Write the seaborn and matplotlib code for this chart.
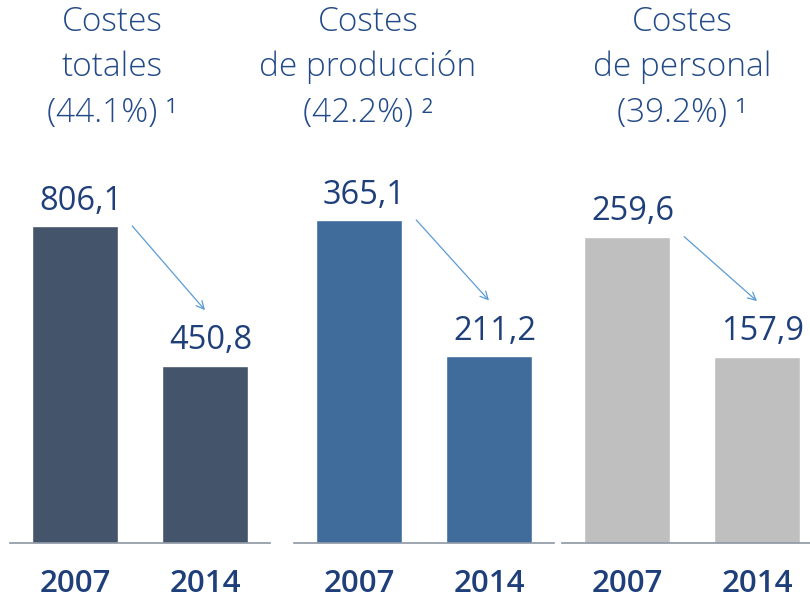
import numpy as np
import pandas as pd
import matplotlib
matplotlib.use("Agg")
import matplotlib.pyplot as plt
import matplotlib.transforms as mtrans
import seaborn as sns

sns.set_style("white")
plt.rcParams['font.family'] = ['Open Sans', 'DejaVu Sans']

# datos
years = ["2007", "2014"]
totales = [806.1, 450.8]
produccion = [365.1, 211.2]
personal = [259.6, 157.9]
titles = [["Costes", "totales", "(44.1%) \u00b9"],
          ["Costes", "de producción", "(42.2%) \u00b2"],
          ["Costes", "de personal", "(39.2%) \u00b9"]]

series = [totales, produccion, personal]
colors = ["#44546A", "#406C9C", "#BFBFBF"]
ytops = [1017, 452, 339]          # escala propia de cada panel
lefts = [10, 294, 562]            # posicion en pixeles
title_x = [112, 368, 682]
text_col = "#1F3F7A"
title_col = "#234A88"

fig = plt.figure(figsize=(8.1, 6), dpi=100)

for i, vals in enumerate(series):
    ax = fig.add_axes([lefts[i] / 810, 57 / 600, 260 / 810, 400 / 600])
    df = pd.DataFrame({'year': years, 'value': vals})
    sns.barplot(data=df, x='year', y='value', color=colors[i], width=0.66,
                saturation=1, ax=ax)
    ax.set_xlim(-0.5, 1.5)
    ax.set_ylim(0, ytops[i])
    for s in ['top', 'right', 'left']:
        ax.spines[s].set_visible(False)
    ax.spines['bottom'].set_color('#8C96A3')
    ax.spines['bottom'].set_linewidth(1.2)
    ax.set_yticks([])
    ax.set_xlabel('')
    ax.set_ylabel('')
    ax.tick_params(axis='x', length=0, pad=19)
    for lab in ax.get_xticklabels():
        lab.set_fontsize(22.5)
        lab.set_fontweight('semibold')
        lab.set_color(text_col)

    # etiquetas de valor
    for j, v in enumerate(vals):
        ax.annotate(f"{v:.1f}".replace('.', ','), xy=(j, v), xytext=(4, 6),
                    textcoords='offset points', ha='center', va='bottom',
                    fontsize=23.5, color=text_col)

    # flecha de 2007 a 2014
    start_tr = ax.transData
    end_tr = mtrans.offset_copy(ax.transData, fig=fig, x=0, y=40, units='points')
    ax.annotate('', xy=(1.0, vals[1]), xycoords=end_tr,
                xytext=(0.44, vals[0]), textcoords=start_tr,
                arrowprops=dict(arrowstyle='->', color='#5B9BD5', lw=0.9,
                                mutation_scale=14, shrinkA=0, shrinkB=0),
                annotation_clip=False)

    # titulos
    for k, line in enumerate(titles[i]):
        fig.text(title_x[i] / 810, 1 - (22 + 45.5 * k) / 600, line,
                 ha='center', va='center', fontsize=24, fontweight='light',
                 color=title_col)

fig.savefig('out.png', dpi=100)
